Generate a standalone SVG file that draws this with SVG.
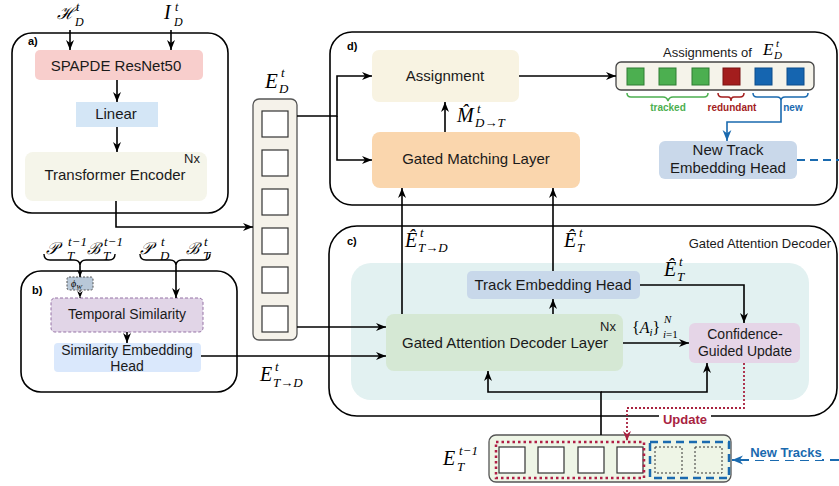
<svg xmlns="http://www.w3.org/2000/svg" width="839" height="486" viewBox="0 0 839 486">
<defs>
<marker id="ah" viewBox="0 0 10 10" refX="10" refY="5" markerWidth="10" markerHeight="10" markerUnits="userSpaceOnUse" orient="auto"><path d="M0,1 L10,5 L0,9 L3,5 z" fill="#000"/></marker>
<marker id="ahS" viewBox="0 0 10 10" refX="10" refY="5" markerWidth="7" markerHeight="7" markerUnits="userSpaceOnUse" orient="auto"><path d="M0,1 L10,5 L0,9 L3,5 z" fill="#000"/></marker>
<marker id="ahR" viewBox="0 0 10 10" refX="10" refY="5" markerWidth="10" markerHeight="10" markerUnits="userSpaceOnUse" orient="auto"><path d="M0,1 L10,5 L0,9 L3,5 z" fill="#a8223f"/></marker>
<marker id="ahB" viewBox="0 0 10 10" refX="10" refY="5" markerWidth="11" markerHeight="11" markerUnits="userSpaceOnUse" orient="auto"><path d="M0,1 L10,5 L0,9 L3,5 z" fill="#1a6aaf"/></marker>
</defs>
<style>
.frame{fill:#fff;stroke:#000;stroke-width:1.6}
.t{font-family:"Liberation Sans",Arial,sans-serif;fill:#1a1a1a;font-size:15px;text-anchor:middle}
.s14{font-size:14px}
.lab{font-family:"Liberation Sans",Arial,sans-serif;font-weight:bold;font-size:11px;fill:#000}
.m{font-family:"Liberation Serif","DejaVu Serif",serif;font-style:italic;fill:#000;font-size:20px}
.sc{font-family:"Liberation Serif","DejaVu Serif",serif;font-style:italic;fill:#000;font-size:13px}
.c{fill:none;stroke:#000;stroke-width:1.6}
.sq{fill:#fff;stroke:#333;stroke-width:1.2}
</style>

<!-- frames -->
<g id="frame-a"><rect class="frame" x="12" y="33" width="216" height="180" rx="20"/><text class="lab" x="28" y="45">a)</text></g>
<g id="frame-b"><rect class="frame" x="21" y="271" width="216" height="121" rx="20"/><text class="lab" x="32" y="294">b)</text></g>
<g id="frame-d"><rect class="frame" x="330" y="32" width="507" height="173" rx="22"/><text class="lab" x="347" y="50">d)</text></g>
<g id="frame-c"><rect class="frame" x="329" y="226" width="508" height="190" rx="28"/><text class="lab" x="347" y="245">c)</text>
<text class="t" style="font-size:13px;text-anchor:end" x="831" y="248">Gated Attention Decoder</text>
<rect x="351" y="263" width="458" height="137" rx="20" fill="#e2f1f1"/></g>

<!-- a) nodes -->
<g id="spapde"><rect x="35" y="50" width="168" height="30" rx="5" fill="#f8cecc"/><text class="t" x="116" y="71">SPAPDE ResNet50</text></g>
<g id="linear"><rect x="76" y="102" width="82" height="25" fill="#d4e6f6"/><text class="t" x="116" y="119">Linear</text></g>
<g id="transformer"><rect x="25" y="152" width="182" height="49" rx="8" fill="#f5f5ea"/><text class="t" x="115" y="180">Transformer Encoder</text><text class="t" style="font-size:13px" x="192" y="163">Nx</text></g>

<!-- E_D column -->
<g id="ed-column">
<rect x="253" y="99" width="44" height="241" rx="6" fill="#f5f2ea" stroke="#555" stroke-width="1.3"/>
<rect class="sq" x="262" y="111" width="26" height="26"/>
<rect class="sq" x="262" y="150" width="26" height="26"/>
<rect class="sq" x="262" y="189" width="26" height="26"/>
<rect class="sq" x="262" y="228" width="26" height="26"/>
<rect class="sq" x="262" y="267" width="26" height="26"/>
<rect class="sq" x="262" y="306" width="26" height="26"/>
<text class="m" style="font-size:21px" x="265" y="88">E</text><text class="sc" x="281" y="77">t</text><text class="sc" x="279" y="93">D</text>
</g>

<!-- d) nodes -->
<g id="assignment"><rect x="372" y="50" width="147" height="52" rx="7" fill="#f8f3e2"/><text class="t" x="445" y="81">Assignment</text></g>
<g id="gml"><rect x="372" y="132" width="208" height="56" rx="8" fill="#fad6ad"/><text class="t" x="476" y="164">Gated Matching Layer</text></g>
<g id="assignments">
<text class="t" style="font-size:13px;text-anchor:start" x="663" y="57">Assignments of</text>
<text class="m" style="font-size:17px" x="763" y="55">E</text><text class="sc" style="font-size:11px" x="776" y="47">t</text><text class="sc" style="font-size:11px" x="774" y="59">D</text>
<rect x="616" y="62" width="198" height="28" rx="5" fill="#f5f3ea" stroke="#444" stroke-width="1.3"/>
<rect x="627" y="68" width="17" height="17" fill="#4caf50" stroke="#2e7d32"/>
<rect x="659" y="68" width="17" height="17" fill="#4caf50" stroke="#2e7d32"/>
<rect x="692" y="68" width="17" height="17" fill="#4caf50" stroke="#2e7d32"/>
<rect x="723" y="68" width="17" height="17" fill="#a31d1d" stroke="#7a1212"/>
<rect x="755" y="68" width="17" height="17" fill="#1565b0" stroke="#0d4d8a"/>
<rect x="787" y="68" width="17" height="17" fill="#1565b0" stroke="#0d4d8a"/>
<path d="M627,93 Q627,97 631,97 L663,97 Q667,97 668,101 Q669,97 673,97 L704,97 Q708,97 708,93" fill="none" stroke="#4caf50" stroke-width="1.5"/>
<path d="M718,93 Q718,97 722,97 L728,97 Q731,97 731,101 Q731,97 734,97 L740,97 Q744,97 744,93" fill="none" stroke="#a31d1d" stroke-width="1.5"/>
<path d="M753,93 Q753,97 757,97 L777,97 Q781,97 781,101 Q781,97 785,97 L804,97 Q808,97 808,93" fill="none" stroke="#1a6aaf" stroke-width="1.5"/>
<text class="t" style="font-size:10px;font-weight:bold;fill:#4caf50" x="668" y="111">tracked</text>
<text class="t" style="font-size:10px;font-weight:bold;fill:#a31d1d" x="732" y="111">redundant</text>
<text class="t" style="font-size:10px;font-weight:bold;fill:#1a6aaf" x="793" y="111">new</text>
</g>
<g id="new-track"><rect x="659" y="141" width="138" height="38" rx="6" fill="#c9d8ea"/><text class="t" x="728" y="155">New Track</text><text class="t" x="728" y="173">Embedding Head</text></g>

<!-- c) nodes -->
<g id="teh"><rect x="467" y="271" width="173" height="28" rx="5" fill="#c8d8ea"/><text class="t" x="553" y="290">Track Embedding Head</text></g>
<g id="gadl"><rect x="386" y="314" width="237" height="57" rx="8" fill="#d5e8d4"/><text class="t" x="505" y="348">Gated Attention Decoder Layer</text><text class="t" style="font-size:13px" x="608" y="331">Nx</text></g>
<g id="cgu"><rect x="689" y="323" width="111" height="40" rx="6" fill="#e5d5e7"/><text class="t s14" x="745" y="339">Confidence-</text><text class="t s14" x="745" y="356">Guided Update</text></g>

<!-- b) nodes -->
<g id="phi"><rect x="67" y="277" width="26" height="13" rx="2" fill="#b8c8d8" stroke="#555" stroke-dasharray="2,1.5"/><text class="sc" style="font-size:10px" x="71" y="287">ϕ<tspan font-size="7" dy="1.5">W</tspan></text></g>
<g id="temporal"><rect x="51" y="298" width="152" height="34" rx="4" fill="#e1d5e7" stroke="#9673a6" stroke-dasharray="3,2"/><text class="t s14" x="127" y="319">Temporal Similarity</text></g>
<g id="seh"><rect x="54" y="343" width="147" height="29" rx="4" fill="#dae8fc"/><text class="t s14" x="127" y="355">Similarity Embedding</text><text class="t s14" x="127" y="371">Head</text></g>

<!-- E_T box -->
<g id="et-box">
<rect x="489" y="435" width="242" height="47" rx="7" fill="#eef5e6" stroke="#555" stroke-width="1.3"/>
<rect class="sq" x="499" y="447" width="26" height="26"/>
<rect class="sq" x="538" y="447" width="26" height="26"/>
<rect class="sq" x="578" y="447" width="26" height="26"/>
<rect class="sq" x="617" y="447" width="26" height="26"/>
<rect x="655" y="447" width="27" height="26" fill="none" stroke="#333" stroke-dasharray="2,2"/>
<rect x="695" y="447" width="27" height="26" fill="none" stroke="#333" stroke-dasharray="2,2"/>
<rect x="496" y="442" width="148" height="36" fill="none" stroke="#b01e45" stroke-width="2.5" stroke-dasharray="2.5,3"/>
<rect x="650" y="442" width="79" height="36" fill="none" stroke="#1a6aaf" stroke-width="2.5" stroke-dasharray="8,5"/>
<text class="m" x="443" y="465">E</text><text class="sc" x="459" y="455">t−1</text><text class="sc" x="457" y="471">T</text>
</g>

<!-- math labels -->
<g id="labels">
<text class="m" style="font-size:17px" x="57" y="19">ℋ</text><text class="sc" style="font-size:12px" x="76" y="11">t</text><text class="sc" style="font-size:12px" x="75" y="26">D</text>
<text class="m" x="164" y="19">I</text><text class="sc" style="font-size:12px" x="175" y="11">t</text><text class="sc" style="font-size:12px" x="174" y="26">D</text>
<text class="m" style="font-size:17px" x="46" y="254">𝒫</text><text class="sc" x="68" y="246">t−1</text><text class="sc" x="67" y="260">T</text>
<text class="m" style="font-size:16px" x="87" y="254">ℬ</text><text class="sc" x="104" y="246">t−1</text><text class="sc" x="103" y="260">T</text>
<text class="m" style="font-size:17px" x="140" y="254">𝒫</text><text class="sc" x="161" y="246">t</text><text class="sc" x="160" y="260">D</text>
<text class="m" style="font-size:16px" x="186" y="254">ℬ</text><text class="sc" x="204" y="246">t</text><text class="sc" x="203" y="260">T</text>
<text class="m" x="260" y="381">E</text><text class="sc" x="275" y="371">t</text><text class="sc" x="273" y="387">T→D</text>
<text class="m" x="405" y="247">Ê</text><text class="sc" x="420" y="237">t</text><text class="sc" x="418" y="252">T→D</text>
<text class="m" x="564" y="247">Ê</text><text class="sc" x="579" y="237">t</text><text class="sc" x="577" y="252">T</text>
<text class="m" x="664" y="276">Ê</text><text class="sc" x="679" y="266">t</text><text class="sc" x="677" y="281">T</text>
<text class="m" x="457" y="122">M̂</text><text class="sc" x="477" y="113">t</text><text class="sc" x="475" y="127">D→T</text>
<text class="m" style="font-size:16px" x="632" y="333"><tspan font-style="normal">{</tspan>A<tspan font-size="11" dy="3">i</tspan><tspan font-style="normal" dy="-3">}</tspan></text><text class="sc" style="font-size:11px" x="664" y="323">N</text><text class="sc" style="font-size:11px" x="663" y="338">i<tspan font-style="normal">=1</tspan></text>
</g>

<!-- connectors -->
<g id="connectors">
<path class="c" d="M70,30 V50" marker-end="url(#ah)"/>
<path class="c" d="M171,30 V50" marker-end="url(#ah)"/>
<path class="c" d="M117,80 V102" marker-end="url(#ah)"/>
<path class="c" d="M117,127 V152" marker-end="url(#ah)"/>
<path class="c" d="M116,201 V227 H253" marker-end="url(#ah)"/>
<path class="c" d="M297,116 H337 V76 H372" marker-end="url(#ah)"/>
<path class="c" d="M337,116 V160 H372" marker-end="url(#ah)"/>
<path class="c" d="M445,132 V102" marker-end="url(#ah)"/>
<path class="c" d="M519,76 H616" marker-end="url(#ah)"/>
<path d="M781,101 V122 H727 V141" fill="none" stroke="#1a6aaf" stroke-width="1.6" marker-end="url(#ahB)"/>
<path d="M797,160 H839" fill="none" stroke="#1a6aaf" stroke-width="2.2" stroke-dasharray="8,5"/>
<path class="c" d="M402,314 V188" marker-end="url(#ah)"/>
<path class="c" d="M553,314 V299" marker-end="url(#ah)"/>
<path class="c" d="M553,271 V188" marker-end="url(#ah)"/>
<path class="c" d="M297,327 H386" marker-end="url(#ah)"/>
<path class="c" d="M201,356 H386" marker-end="url(#ah)"/>
<path class="c" d="M623,343 H689" marker-end="url(#ah)"/>
<path class="c" d="M640,285 H744 V323" marker-end="url(#ah)"/>
<path class="c" d="M601,435 V392 H488 V371" marker-end="url(#ah)"/>
<path class="c" d="M601,392 H707 V363" marker-end="url(#ah)"/>
<path d="M744,363 V408 H627 V441" fill="none" stroke="#a8223f" stroke-width="1.8" stroke-dasharray="2,2" marker-end="url(#ahR)"/>
<rect x="659" y="411" width="52" height="15" fill="#fff"/>
<text class="t" style="font-size:13px;font-weight:bold;fill:#a8223f" x="685" y="424">Update</text>
<path d="M839,460 H732" fill="none" stroke="#1a6aaf" stroke-width="2.2" stroke-dasharray="9,6" marker-end="url(#ahB)"/>
<rect x="749" y="445" width="73" height="15" fill="#fff"/>
<text class="t" style="font-size:13px;font-weight:bold;fill:#1a6aaf" x="786" y="457">New Tracks</text>
<path d="M44,254 Q44,260 50,260 L74,260 Q80,260 80,266 Q80,260 86,260 L109,260 Q115,260 115,254" fill="none" stroke="#000" stroke-width="1.4"/>
<path d="M140,254 Q140,260 146,260 L170,260 Q176,260 176,266 Q176,260 182,260 L204,260 Q210,260 210,254" fill="none" stroke="#000" stroke-width="1.4"/>
<path class="c" d="M80,266 V277" marker-end="url(#ahS)"/>
<path d="M80,290 V298" fill="none" stroke="#000" stroke-width="1" stroke-dasharray="2,1.5" marker-end="url(#ahS)"/>
<path class="c" d="M176,266 V298" marker-end="url(#ah)"/>
<path class="c" d="M127,332 V343" marker-end="url(#ah)"/>
</g>
</svg>
